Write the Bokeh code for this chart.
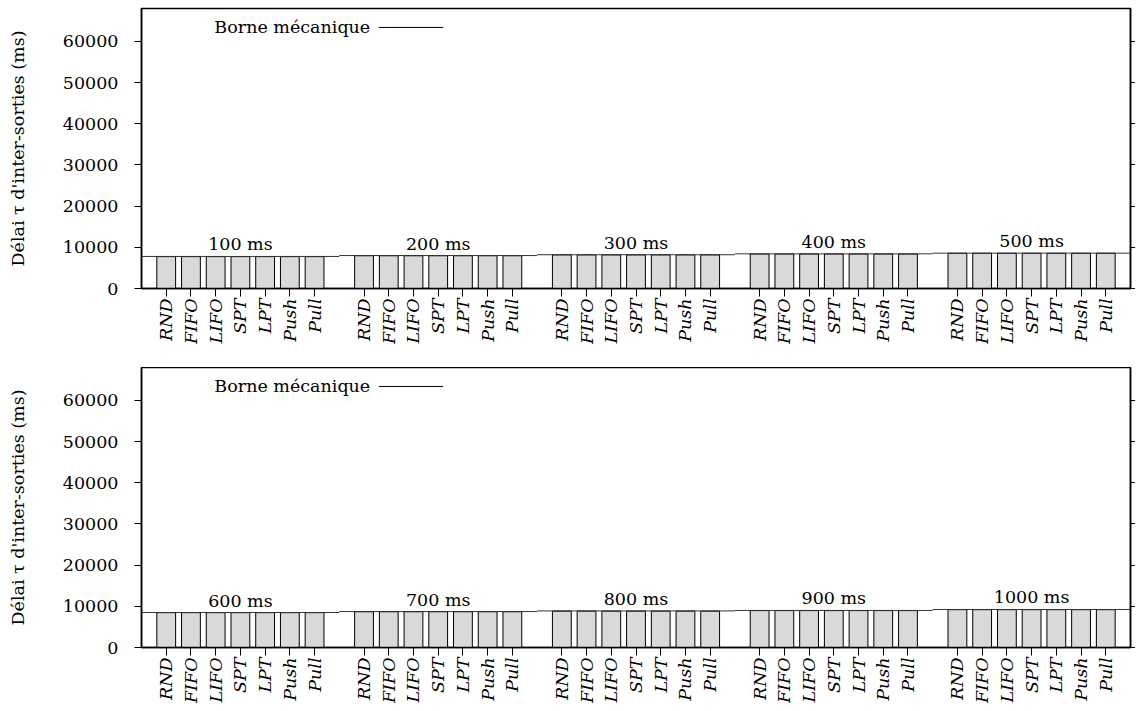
import math
from bokeh.plotting import figure
from bokeh.layouts import column
from bokeh.models import Range1d, FixedTicker, LinearAxis, ColumnDataSource
from bokeh.core.properties import value
from bokeh.embed import file_html
from bokeh.resources import INLINE

# ---- data ----
policies = ["RND", "FIFO", "LIFO", "SPT", "LPT", "Push", "Pull"]
windows_top = ["100 ms", "200 ms", "300 ms", "400 ms", "500 ms"]
windows_bot = ["600 ms", "700 ms", "800 ms", "900 ms", "1000 ms"]
borne_top = [7780, 8000, 8200, 8420, 8590]
borne_bot = [8500, 8730, 8880, 9000, 9230]
bars_top = [
    [7740, 7740, 7740, 7740, 7740, 7740, 7740],
    [7960, 7960, 7960, 7960, 7960, 7960, 7960],
    [8160, 8160, 8160, 8160, 8160, 8160, 8160],
    [8380, 8380, 8380, 8380, 8380, 8380, 8380],
    [8550, 8550, 8550, 8550, 8550, 8550, 8550],
]
bars_bot = [
    [8460, 8460, 8460, 8460, 8460, 8460, 8460],
    [8690, 8690, 8690, 8690, 8690, 8690, 8690],
    [8840, 8840, 8840, 8840, 8840, 8840, 8840],
    [8960, 8960, 8960, 8960, 8960, 8960, 8960],
    [9190, 9190, 9190, 9190, 9190, 9190, 9190],
]
y_ticks = [0, 10000, 20000, 30000, 40000, 50000, 60000]
y_label = "Délai τ d'inter-sorties (ms)"
legend_label = "Borne mécanique"

FONT = "DejaVu Serif"
FS = "17.5px"
SLOT = len(policies) + 1


def make_panel(windows, borne, bars, height, top_border, bottom_border):
    p = figure(frame_width=989, frame_height=280, height=height,
               min_border_left=141, min_border_right=2, min_border_top=top_border,
               min_border_bottom=bottom_border,
               x_range=Range1d(-1, len(windows) * SLOT - 1),
               y_range=Range1d(0, 68000),
               output_backend="svg", toolbar_location=None, tools="")
    p.xgrid.visible = False
    p.ygrid.visible = False
    p.outline_line_color = "black"
    p.outline_line_width = 1.5
    p.background_fill_color = "white"
    p.border_fill_color = "white"

    xs, tops = [], []
    for g, vals in enumerate(bars):
        for j, v in enumerate(vals):
            xs.append(g * SLOT + j)
            tops.append(v)
    src = ColumnDataSource(dict(x=xs, top=tops))
    p.vbar(x="x", top="top", width=0.76, bottom=0, source=src,
           fill_color="#d9d9d9", line_color="black", line_width=1)

    # Borne mecanique step segments
    x0 = [g * SLOT - 1 for g in range(len(windows))]
    x1 = [g * SLOT + SLOT - 1 for g in range(len(windows))]
    p.segment(x0=x0, y0=borne, x1=x1, y1=borne, line_color="#333333", line_width=1)

    # group labels
    cx = [g * SLOT + (len(policies) - 1) / 2 for g in range(len(windows))]
    p.text(x=cx, y=borne, text=windows, text_align="center",
           text_baseline="bottom", y_offset=-2,
           text_font=value(FONT), text_font_size=FS, text_color="black")

    # legend (gnuplot style: label then sample)
    p.text(x=[8.25], y=[63400], text=[legend_label], text_align="right",
           text_baseline="middle", text_font=value(FONT), text_font_size=FS,
           text_color="black")
    p.segment(x0=[8.6], y0=[63400], x1=[11.2], y1=[63400],
              line_color="black", line_width=1)

    # axes
    xa = p.xaxis[0]
    xa.ticker = FixedTicker(ticks=xs)
    xa.major_label_overrides = {x: policies[i % len(policies)] for i, x in enumerate(xs)}
    xa.major_label_orientation = math.pi / 2
    xa.major_label_text_font = FONT
    xa.major_label_text_font_style = "italic"
    xa.major_label_text_font_size = FS
    xa.major_label_text_color = "black"
    xa.major_tick_out = 8
    xa.major_tick_in = 0
    xa.minor_tick_line_color = None
    xa.major_label_standoff = 2
    xa.axis_line_color = "black"
    xa.axis_line_width = 1.5

    ya = p.yaxis[0]
    ya.ticker = FixedTicker(ticks=y_ticks)
    ya.major_label_text_font = FONT
    ya.major_label_text_font_size = FS
    ya.major_label_text_color = "black"
    ya.major_tick_out = 7
    ya.major_tick_in = 0
    ya.minor_tick_line_color = None
    ya.major_label_standoff = 16
    ya.axis_label = y_label
    ya.axis_label_text_font = FONT
    ya.axis_label_text_font_size = FS
    ya.axis_label_text_font_style = "normal"
    ya.axis_label_text_color = "black"
    ya.axis_label_standoff = 32
    ya.axis_line_color = "black"
    ya.axis_line_width = 1.5

    ra = LinearAxis(ticker=FixedTicker(ticks=y_ticks), major_label_text_color=None,
                    major_tick_out=5, major_tick_in=0, minor_tick_line_color=None,
                    axis_line_color="black", axis_line_width=1.5, major_label_standoff=0)
    p.add_layout(ra, "right")
    return p


p1 = make_panel(windows_top, borne_top, bars_top, 367, 8, 79)
p2 = make_panel(windows_bot, borne_bot, bars_bot, 336, 0, 56)
layout = column(p1, p2, spacing=0)

open("out.html", "w").write(file_html(layout, INLINE))
